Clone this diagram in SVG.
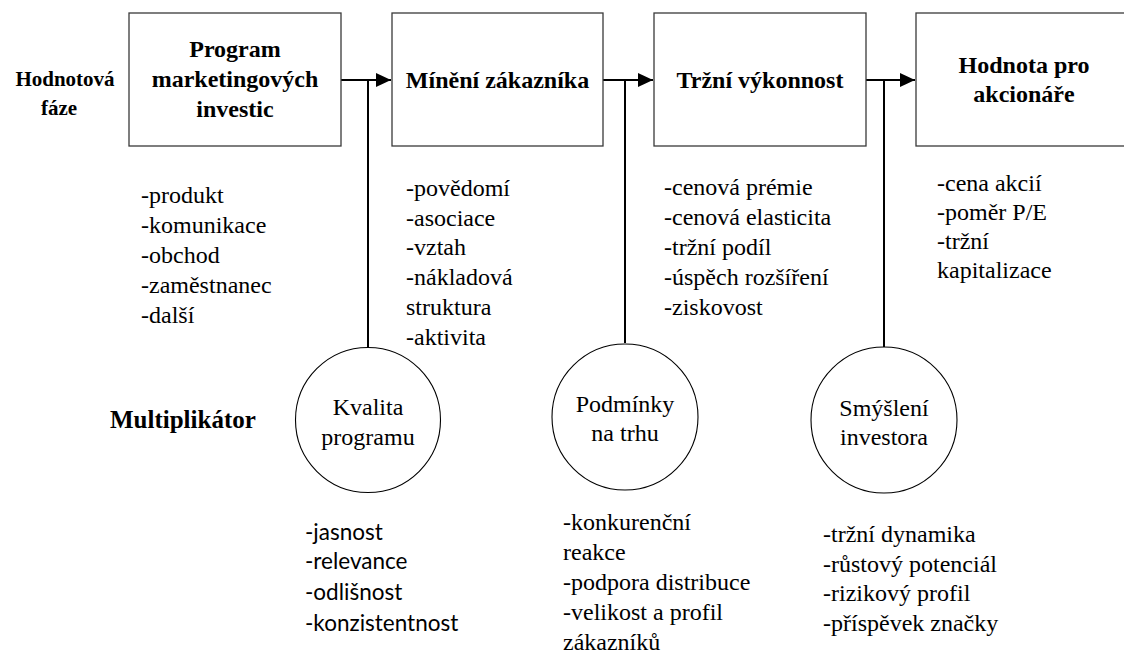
<svg xmlns="http://www.w3.org/2000/svg" width="1124" height="655" viewBox="0 0 1124 655">
  <style>
    .box { fill: #ffffff; stroke: #3a3a3a; stroke-width: 1.3; }
    .circ { fill: #ffffff; stroke: #000000; stroke-width: 1.1; }
    .conn { fill: none; stroke: #000000; stroke-width: 2; }
    .hb { font-family: "Liberation Serif", serif; font-weight: bold; font-size: 24px; fill: #000; text-anchor: middle; }
    .lb { font-family: "Liberation Serif", serif; font-weight: bold; fill: #000; }
    .ct { font-family: "Liberation Serif", serif; font-weight: normal; font-size: 24px; fill: #000; text-anchor: middle; }
    .li { font-family: "Liberation Serif", serif; font-weight: normal; font-size: 24px; fill: #000; }
    .ls { font-family: Lato, "Noto Sans", sans-serif; font-size: 22.5px; fill: #000; }
  </style>
  <defs>
    <marker id="arr" markerUnits="userSpaceOnUse" markerWidth="16" markerHeight="15" refX="15" refY="7" orient="auto">
      <path d="M0,0 L15,7 L0,14 z" fill="#000"/>
    </marker>
  </defs>
  <rect width="1124" height="655" fill="#ffffff"/>

  <!-- row labels -->
  <g id="label-hodnotova">
    <text class="lb" font-size="21" x="65" y="86" text-anchor="middle">Hodnotová</text>
    <text class="lb" font-size="21" x="59" y="115" text-anchor="middle">fáze</text>
  </g>
  <g id="label-multiplikator">
    <text class="lb" font-size="25" x="110" y="428">Multiplikátor</text>
  </g>

  <!-- connectors -->
  <g id="connectors">
    <line class="conn" x1="341" y1="80" x2="391" y2="80" marker-end="url(#arr)"/>
    <line class="conn" x1="603" y1="80" x2="653" y2="80" marker-end="url(#arr)"/>
    <line class="conn" x1="866" y1="80" x2="915" y2="80" marker-end="url(#arr)"/>
    <line class="conn" x1="368" y1="80" x2="368" y2="348"/>
    <line class="conn" x1="625" y1="80" x2="625" y2="343"/>
    <line class="conn" x1="884" y1="80" x2="884" y2="348"/>
  </g>

  <!-- stage boxes -->
  <g id="node-program">
    <rect class="box" x="129" y="13" width="212" height="133"/>
    <text class="hb" x="235" y="57">Program</text>
    <text class="hb" x="235" y="87">marketingových</text>
    <text class="hb" x="235" y="117">investic</text>
  </g>
  <g id="node-mineni">
    <rect class="box" x="392" y="13" width="211" height="133"/>
    <text class="hb" x="497.5" y="88">Mínění zákazníka</text>
  </g>
  <g id="node-trzni">
    <rect class="box" x="654" y="13" width="212" height="133"/>
    <text class="hb" x="760" y="88">Tržní výkonnost</text>
  </g>
  <g id="node-hodnota">
    <rect class="box" x="916" y="13" width="216" height="133"/>
    <text class="hb" x="1024" y="73">Hodnota pro</text>
    <text class="hb" x="1024" y="102">akcionáře</text>
  </g>

  <!-- stage lists -->
  <g id="list-program">
    <text class="li" x="141" y="203">-produkt</text>
    <text class="li" x="141" y="233">-komunikace</text>
    <text class="li" x="141" y="263">-obchod</text>
    <text class="li" x="141" y="293">-zaměstnanec</text>
    <text class="li" x="141" y="323">-další</text>
  </g>
  <g id="list-mineni">
    <text class="li" x="406" y="196">-povědomí</text>
    <text class="li" x="406" y="226">-asociace</text>
    <text class="li" x="406" y="255">-vztah</text>
    <text class="li" x="406" y="285">-nákladová</text>
    <text class="li" x="406" y="315">struktura</text>
    <text class="li" x="406" y="345">-aktivita</text>
  </g>
  <g id="list-trzni">
    <text class="li" x="664" y="195">-cenová prémie</text>
    <text class="li" x="664" y="225">-cenová elasticita</text>
    <text class="li" x="664" y="255">-tržní podíl</text>
    <text class="li" x="664" y="285">-úspěch rozšíření</text>
    <text class="li" x="664" y="315">-ziskovost</text>
  </g>
  <g id="list-hodnota">
    <text class="li" x="937" y="191">-cena akcií</text>
    <text class="li" x="937" y="220">-poměr P/E</text>
    <text class="li" x="937" y="249">-tržní</text>
    <text class="li" x="937" y="278">kapitalizace</text>
  </g>

  <!-- multiplier circles -->
  <g id="node-kvalita">
    <circle class="circ" cx="368" cy="420" r="72.5"/>
    <text class="ct" x="368" y="415">Kvalita</text>
    <text class="ct" x="368" y="445">programu</text>
  </g>
  <g id="node-podminky">
    <circle class="circ" cx="625" cy="417" r="73"/>
    <text class="ct" x="625" y="412">Podmínky</text>
    <text class="ct" x="625" y="441">na trhu</text>
  </g>
  <g id="node-smysleni">
    <circle class="circ" cx="884" cy="420" r="73"/>
    <text class="ct" x="884" y="416">Smýšlení</text>
    <text class="ct" x="884" y="445">investora</text>
  </g>

  <!-- multiplier lists -->
  <g id="list-kvalita">
    <text class="ls" x="305" y="540">-jasnost</text>
    <text class="ls" x="305" y="569">-relevance</text>
    <text class="ls" x="305" y="600">-odlišnost</text>
    <text class="ls" x="305" y="631">-konzistentnost</text>
  </g>
  <g id="list-podminky">
    <text class="li" x="563" y="530">-konkurenční</text>
    <text class="li" x="563" y="560">reakce</text>
    <text class="li" x="563" y="590">-podpora distribuce</text>
    <text class="li" x="563" y="620">-velikost a profil</text>
    <text class="li" x="563" y="650">zákazníků</text>
  </g>
  <g id="list-smysleni">
    <text class="li" x="823" y="542">-tržní dynamika</text>
    <text class="li" x="823" y="572">-růstový potenciál</text>
    <text class="li" x="823" y="601">-rizikový profil</text>
    <text class="li" x="823" y="631">-příspěvek značky</text>
  </g>
</svg>
